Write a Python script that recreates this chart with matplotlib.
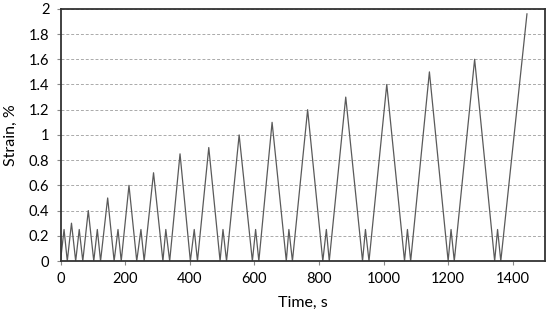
import matplotlib
matplotlib.use("Agg")
import matplotlib.pyplot as plt

time_s = [0, 11, 21, 34, 47, 58, 69, 86, 103, 114, 124, 146, 166, 178, 188, 212, 236,
          249, 259, 288, 317, 326, 338, 370, 402, 414, 424, 459, 494, 503, 514, 553,
          594, 604, 614, 655, 699, 707, 718, 765, 812, 823, 832, 883, 935, 944, 955,
          1010, 1065, 1074, 1084, 1142, 1200, 1209, 1219, 1282, 1344, 1353, 1363, 1444]
strain = [0, .25, 0, .3, 0, .25, 0, .4, 0, .25, 0, .5, 0, .25, 0, .6, 0,
          .25, 0, .7, 0, .25, 0, .85, 0, .25, 0, .9, 0, .25, 0, 1.0,
          0, .25, 0, 1.1, 0, .25, 0, 1.2, 0, .25, 0, 1.3, 0, .25, 0,
          1.4, 0, .25, 0, 1.5, 0, .25, 0, 1.6, 0, .25, 0, 1.96]
x_ticks = [0, 200, 400, 600, 800, 1000, 1200, 1400]
y_ticks = [0, 0.2, 0.4, 0.6, 0.8, 1, 1.2, 1.4, 1.6, 1.8, 2]
y_labels = ["0", "0.2", "0.4", "0.6", "0.8", "1", "1.2", "1.4", "1.6", "1.8", "2"]

plt.rcParams['font.family'] = ['Lato', 'DejaVu Sans']
fig = plt.figure(figsize=(5.5, 3.16), dpi=100)
ax = fig.add_axes([0.11, 0.174, 0.881, 0.798])
ax.plot(time_s, strain, color='#5a5a5a', lw=0.9)
ax.set_xlim(0, 1500)
ax.set_ylim(0, 2)
ax.set_xticks(x_ticks)
ax.set_yticks(y_ticks)
ax.set_yticklabels(y_labels)
ax.tick_params(labelsize=10.5, length=3, color='#888888', width=0.8, direction='out', pad=5)
ax.grid(axis='y', linestyle=(0, (3, 2)), color='#aaaaaa', lw=0.7)
ax.set_axisbelow(True)
for s in ax.spines.values():
    s.set_color('#333333')
    s.set_linewidth(1.3)
ax.set_xlabel('Time, s', fontsize=11.5, labelpad=7)
ax.set_ylabel('Strain, %', fontsize=11.5, labelpad=8)
fig.savefig('out.png', dpi=100)
